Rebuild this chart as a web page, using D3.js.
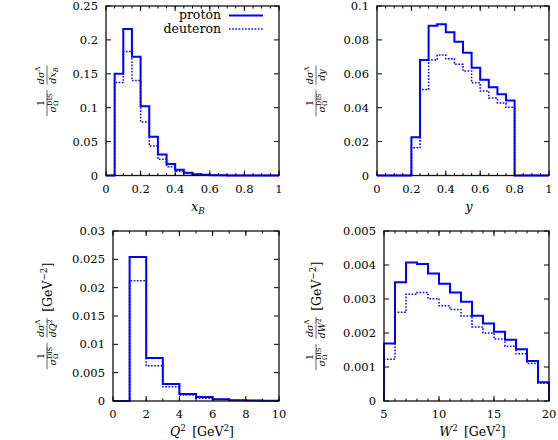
<!DOCTYPE html>
<html>
<head>
<meta charset="utf-8">
<script src="https://cdn.jsdelivr.net/npm/d3@7"></script>
<style>
  body { margin: 0; background: #fff; }
  svg text { fill: #000; }
</style>
</head>
<body>
<div id="chart"></div>
<script>
// bin edges and values
const xbEdges = [0.05, 0.1, 0.15, 0.2, 0.25, 0.3, 0.35, 0.4, 0.45, 0.5, 0.55, 0.6, 0.65, 0.7, 0.75, 0.8, 0.85, 0.9, 0.95, 1.0];
const xbProton = [0.15, 0.216, 0.175, 0.102, 0.057, 0.031, 0.017, 0.0085, 0.004, 0.002, 0.001, 0.0004, 0.0002, 0.0001, 0, 0, 0, 0, 0];
const xbDeuteron = [0.137, 0.183, 0.14, 0.079, 0.0436, 0.024, 0.013, 0.0064, 0.003, 0.0015, 0.0008, 0.0003, 0.0001, 0, 0, 0, 0, 0, 0];

const yEdges = [0.2, 0.25, 0.3, 0.35, 0.4, 0.45, 0.5, 0.55, 0.6, 0.65, 0.7, 0.75, 0.8];
const yProton = [0.0226, 0.0681, 0.0884, 0.0892, 0.0845, 0.0789, 0.0724, 0.0636, 0.0565, 0.052, 0.048, 0.0443];
const yDeuteron = [0.0163, 0.0508, 0.0681, 0.0711, 0.0689, 0.0656, 0.0616, 0.0547, 0.0498, 0.0457, 0.0427, 0.0402];

const q2Edges = [1, 2, 3, 4, 5, 6, 7, 8, 9, 10];
const q2Proton = [0.0254, 0.0076, 0.003, 0.00124, 0.0007, 0.0003, 0.00015, 0.0001, 0.00005];
const q2Deuteron = [0.0212, 0.0062, 0.0025, 0.00106, 0.0005, 0.00025, 0.00012, 0.00008, 0.00004];

const w2Edges = [5, 6, 7, 8, 9, 10, 11, 12, 13, 14, 15, 16, 17, 18, 19, 20];
const w2Proton = [0.00169, 0.00349, 0.00407, 0.00403, 0.00375, 0.00345, 0.00319, 0.00292, 0.00251, 0.00228, 0.00204, 0.0018, 0.00152, 0.00118, 0.00055];
const w2Deuteron = [0.00123, 0.00261, 0.00314, 0.00319, 0.00301, 0.0028, 0.00269, 0.0025, 0.00218, 0.002, 0.00182, 0.00161, 0.00139, 0.0011, 0.00052];

const xbTicks = [0, 0.2, 0.4, 0.6, 0.8, 1];
const yTicks1 = [0, 0.05, 0.1, 0.15, 0.2, 0.25];
const yTicks2 = [0, 0.02, 0.04, 0.06, 0.08, 0.1];
const q2Ticks = [0, 2, 4, 6, 8, 10];
const yTicks3 = [0, 0.005, 0.01, 0.015, 0.02, 0.025, 0.03];
const w2Ticks = [5, 10, 15, 20];
const yTicks4 = [0, 0.001, 0.002, 0.003, 0.004, 0.005];

const seriesNames = ["proton", "deuteron"];
const blue = "#0000ff";
const FONT = "DejaVu Serif";

const svg = d3.select("#chart").append("svg")
    .attr("width", 558)
    .attr("height", 440)
    .style("font-family", FONT);

const panels = [
    { x0: 106, x1: 279, y0: 6, y1: 175.5, xDom: [0, 1], yDom: [0, 0.25], xTicks: xbTicks, yTicks: yTicks1,
      minor: 0.05, edges: xbEdges, p: xbProton, d: xbDeuteron,
      xlab: [["x", "i"], ["B", "sub-i"]], dvar: [["x", "i"], ["B", "sub-i"]], unit: false, labX: 47, legend: true },
    { x0: 377, x1: 549, y0: 6, y1: 175.5, xDom: [0, 1], yDom: [0, 0.1], xTicks: xbTicks, yTicks: yTicks2,
      minor: 0.05, edges: yEdges, p: yProton, d: yDeuteron,
      xlab: [["y", "i"]], dvar: [["y", "i"]], unit: false, labX: 316, legend: false },
    { x0: 113, x1: 279, y0: 231, y1: 401, xDom: [0, 10], yDom: [0, 0.03], xTicks: q2Ticks, yTicks: yTicks3,
      minor: 1, edges: q2Edges, p: q2Proton, d: q2Deuteron,
      xlab: [["Q", "i"], ["2", "sup"], ["\u2002[GeV", "r"], ["2", "sup"], ["]", "r"]],
      dvar: [["Q", "i"], ["2", "sup"]], unit: true, labX: 47, legend: false },
    { x0: 384, x1: 549, y0: 231, y1: 401, xDom: [5, 20], yDom: [0, 0.005], xTicks: w2Ticks, yTicks: yTicks4,
      minor: 1, edges: w2Edges, p: w2Proton, d: w2Deuteron,
      xlab: [["W", "i"], ["2", "sup"], ["\u2002[GeV", "r"], ["2", "sup"], ["]", "r"]],
      dvar: [["W", "i"], ["2", "sup"]], unit: true, labX: 316, legend: false }
];

// write a run of text pieces into a <text> element (sub/sup as tspans)
function addPieces(text, pieces, size) {
    let prev = null, prevShift = 0;
    pieces.forEach(([t, kind]) => {
        const ts = text.append("tspan").text(t);
        let shift = 0;
        if (kind === "i" || kind === "sub-i") ts.style("font-style", "italic");
        if (kind === "sub" || kind === "sub-i" || kind === "under") {
            ts.style("font-size", (size * 0.7) + "px");
            shift = size * 0.25;
        }
        if (kind === "sup") {
            ts.style("font-size", (size * 0.7) + "px");
            shift = -size * 0.4;
        }
        ts.attr("dy", shift - prevShift);
        if (kind === "under" && prev) ts.attr("dx", -prev.node().getComputedTextLength());
        prevShift = shift;
        prev = ts;
    });
    if (prevShift !== 0) text.append("tspan").text("\u200a").attr("dy", -prevShift);
}

// a small stacked fraction centred at cx, bar at y = 0 of the group
function fraction(g, cx, num, den, size) {
    const n = g.append("text").attr("x", cx).attr("y", -3).attr("text-anchor", "middle").style("font-size", size + "px");
    addPieces(n, num, size);
    const d = g.append("text").attr("x", cx).attr("y", size * 0.8 + 1.5).attr("text-anchor", "middle").style("font-size", size + "px");
    addPieces(d, den, size);
    const w = Math.max(n.node().getComputedTextLength(), d.node().getComputedTextLength()) + 1;
    g.append("line").attr("x1", cx - w / 2).attr("x2", cx + w / 2).attr("y1", 0).attr("y2", 0)
        .attr("stroke", "#000").attr("stroke-width", 0.6);
    return w;
}

function textWidth(pieces, size) {
    const t = svg.append("text").style("font-size", size + "px");
    addPieces(t, pieces, size);
    const w = t.node().getComputedTextLength();
    t.remove();
    return w;
}

panels.forEach(pn => {
    const x = d3.scaleLinear().domain(pn.xDom).range([pn.x0, pn.x1]);
    const y = d3.scaleLinear().domain(pn.yDom).range([pn.y1, pn.y0]);
    const g = svg.append("g");

    // histograms as steps, running along zero outside the filled bins
    [pn.p, pn.d].forEach((vals, si) => {
        const pts = [[pn.xDom[0], 0], [pn.edges[0], 0]];
        vals.forEach((v, i) => {
            pts.push([pn.edges[i], v]);
            pts.push([pn.edges[i + 1], v]);
        });
        pts.push([pn.edges[pn.edges.length - 1], 0], [pn.xDom[1], 0]);
        g.append("path")
            .attr("d", d3.line().x(d => x(d[0])).y(d => y(d[1]))(pts))
            .attr("fill", "none")
            .attr("stroke", blue)
            .attr("stroke-width", si === 0 ? 2 : 1.5)
            .attr("stroke-dasharray", si === 0 ? null : "1.6,1.6");
    });

    // ticks: major on x and y, minor on x; mirrored on top and right
    d3.range(pn.xDom[0], pn.xDom[1] + 1e-9, pn.minor).forEach(t => {
        [[pn.y1, -2.5], [pn.y0, 2.5]].forEach(([yy, len]) => {
            g.append("line").attr("x1", x(t)).attr("x2", x(t)).attr("y1", yy).attr("y2", yy + len)
                .attr("stroke", "#000").attr("stroke-width", 1);
        });
    });
    pn.xTicks.forEach(t => {
        [[pn.y1, -5], [pn.y0, 5]].forEach(([yy, len]) => {
            g.append("line").attr("x1", x(t)).attr("x2", x(t)).attr("y1", yy).attr("y2", yy + len)
                .attr("stroke", "#000").attr("stroke-width", 1);
        });
        g.append("text").attr("x", x(t)).attr("y", pn.y1 + 17).attr("text-anchor", "middle")
            .style("font-size", "11.5px").text(t);
    });
    pn.yTicks.forEach(t => {
        [[pn.x0, 5], [pn.x1, -5]].forEach(([xx, len]) => {
            g.append("line").attr("x1", xx).attr("x2", xx + len).attr("y1", y(t)).attr("y2", y(t))
                .attr("stroke", "#000").attr("stroke-width", 1);
        });
        g.append("text").attr("x", pn.x0 - 8).attr("y", y(t) + 4).attr("text-anchor", "end")
            .style("font-size", "11.5px").text(t);
    });

    // frame
    g.append("rect").attr("x", pn.x0).attr("y", pn.y0).attr("width", pn.x1 - pn.x0).attr("height", pn.y1 - pn.y0)
        .attr("fill", "none").attr("stroke", "#111").attr("stroke-width", 1.3);

    // x axis title
    const xt = g.append("text").attr("x", (pn.x0 + pn.x1) / 2 + 6).attr("y", pn.y1 + 35)
        .attr("text-anchor", "middle").style("font-size", "12.5px");
    addPieces(xt, pn.xlab, 12.5);

    // y axis title, rotated: 1/sigma_Omega^DIS  dsigma^Lambda/d(var) [GeV^-2]
    const fs = 9.5;
    const num1 = [["1", "r"]];
    const den1 = [["σ", "i"], ["DIS", "sup"], ["Ω", "under"]];
    const num2 = [["dσ", "i"], ["Λ", "sup"]];
    const den2 = [["d", "i"]].concat(pn.dvar);
    const w1 = Math.max(textWidth(num1, fs), textWidth(den1, fs)) + 1;
    const w2 = Math.max(textWidth(num2, fs), textWidth(den2, fs)) + 1;
    const lab = g.append("g");
    const inner = lab.append("g");
    fraction(inner, w1 / 2, num1, den1, fs);
    fraction(inner, w1 + 5 + w2 / 2, num2, den2, fs);
    let total = w1 + 5 + w2;
    if (pn.unit) {
        const ut = inner.append("text").attr("x", total + 6).attr("y", 4.5).style("font-size", "12.5px");
        addPieces(ut, [["[GeV", "r"], ["\u22122", "sup"], ["]", "r"]], 12.5);
        total += 6 + ut.node().getComputedTextLength();
    }
    inner.attr("transform", `translate(${-total / 2},0)`);
    lab.attr("transform", `translate(${pn.labX},${(pn.y0 + pn.y1) / 2}) rotate(-90)`);

    // legend
    if (pn.legend) {
        seriesNames.forEach((name, i) => {
            const yy = 15.5 + i * 13.5;
            g.append("text").attr("x", 221).attr("y", yy + 3.5).attr("text-anchor", "end")
                .style("font-size", "12.5px").text(name);
            g.append("line").attr("x1", 229).attr("x2", 263).attr("y1", yy).attr("y2", yy)
                .attr("stroke", blue).attr("stroke-width", i === 0 ? 2 : 1.5)
                .attr("stroke-dasharray", i === 0 ? null : "1.6,1.6");
        });
    }
});
</script>
</body>
</html>
